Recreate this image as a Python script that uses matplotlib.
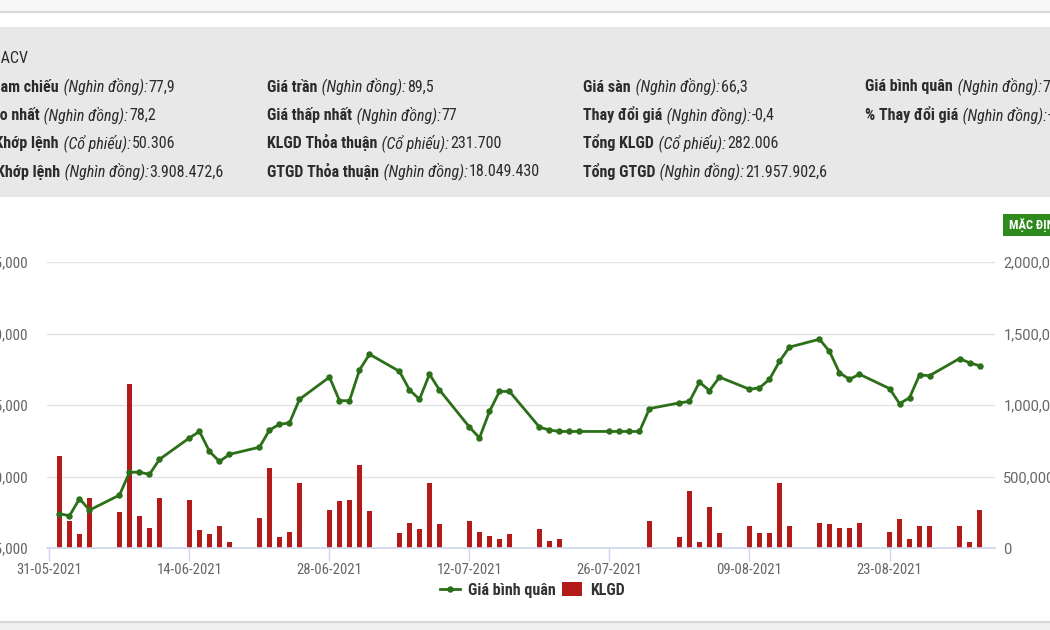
import matplotlib
matplotlib.use('Agg')
import matplotlib.pyplot as plt
import matplotlib.dates as mdates
import pandas as pd
from matplotlib.patches import Rectangle
from matplotlib.lines import Line2D
from matplotlib.ticker import FuncFormatter

plt.rcParams['font.family'] = ['Roboto Condensed', 'Liberation Sans Narrow', 'DejaVu Sans']

# ---------------- data ----------------
dates = ['2021-06-01', '2021-06-02', '2021-06-03', '2021-06-04', '2021-06-07', '2021-06-08',
         '2021-06-09', '2021-06-10', '2021-06-11', '2021-06-14', '2021-06-15', '2021-06-16',
         '2021-06-17', '2021-06-18', '2021-06-21', '2021-06-22', '2021-06-23', '2021-06-24',
         '2021-06-25', '2021-06-28', '2021-06-29', '2021-06-30', '2021-07-01', '2021-07-02',
         '2021-07-05', '2021-07-06', '2021-07-07', '2021-07-08', '2021-07-09', '2021-07-12',
         '2021-07-13', '2021-07-14', '2021-07-15', '2021-07-16', '2021-07-19', '2021-07-20',
         '2021-07-21', '2021-07-22', '2021-07-23', '2021-07-26', '2021-07-27', '2021-07-28',
         '2021-07-29', '2021-07-30', '2021-08-02', '2021-08-03', '2021-08-04', '2021-08-05',
         '2021-08-06', '2021-08-09', '2021-08-10', '2021-08-11', '2021-08-12', '2021-08-13',
         '2021-08-16', '2021-08-17', '2021-08-18', '2021-08-19', '2021-08-20', '2021-08-23',
         '2021-08-24', '2021-08-25', '2021-08-26', '2021-08-27', '2021-08-30', '2021-08-31',
         '2021-09-01']

gia_binh_quan = [77400, 77250, 78450, 77650, 78700, 80300, 80300, 80150, 81200, 82700, 83150,
                 81750, 81050, 81550, 82050, 83250, 83650, 83750, 85400, 86950, 85300, 85300,
                 87450, 88550, 87350, 86050, 85400, 87150, 86050, 83450, 82700, 84550, 85950,
                 85950, 83450, 83250, 83150, 83150, 83150, 83150, 83150, 83150, 83150, 84750,
                 85150, 85250, 86600, 86000, 86950, 86100, 86200, 86800, 88050, 89050, 89600,
                 88750, 87250, 86800, 87150, 86150, 85100, 85500, 87100, 87050, 88250, 87950,
                 87750]

klgd = [645000, 189000, 96000, 348000, 250000, 1147000, 224000, 138000, 348000, 338000, 128000,
        96000, 156000, 40000, 208000, 557000, 75000, 110000, 452000, 268000, 329000, 338000,
        580000, 259000, 103000, 173000, 131000, 452000, 166000, 189000, 110000, 84000, 61000,
        96000, 131000, 51000, 61000, 0, 0, 0, 0, 0, 0, 189000,
        75000, 399000, 42000, 287000, 105000, 154000, 105000, 105000, 452000, 154000, 173000,
        166000, 138000, 138000, 173000, 110000, 205000, 61000, 154000, 154000, 154000, 42000,
        268000]

x_ticks = ['2021-05-31', '2021-06-14', '2021-06-28', '2021-07-12', '2021-07-26', '2021-08-09',
           '2021-08-23']
price_ticks = [75000, 80000, 85000, 90000, 95000]
vol_ticks = [0, 500000, 1000000, 1500000, 2000000]

# first column is cut by the left edge: it is anchored by where its text ends
left_rows = [
    # (end x px, baseline y px, label, unit, value)
    (28, 63, 'Mã CK', '', ': ACV'),
    (175, 91.5, 'Giá tham chiếu', '(Nghìn đồng):', '77,9'),
    (156, 120, 'Giá cao nhất', '(Nghìn đồng):', '78,2'),
    (175, 148, 'KLGD Khớp lệnh', '(Cổ phiếu):', '50.306'),
    (224, 176.5, 'GTGD Khớp lệnh', '(Nghìn đồng):', '3.908.472,6'),
]
info_rows = [
    # (start x px, baseline y px, label, unit, value)
    (267, 91.5, 'Giá trần', '(Nghìn đồng):', '89,5'),
    (267, 120, 'Giá thấp nhất', '(Nghìn đồng):', '77'),
    (267, 148, 'KLGD Thỏa thuận', '(Cổ phiếu):', '231.700'),
    (267, 176.5, 'GTGD Thỏa thuận', '(Nghìn đồng):', '18.049.430'),
    (583, 91.5, 'Giá sàn', '(Nghìn đồng):', '66,3'),
    (583, 120, 'Thay đổi giá', '(Nghìn đồng):', '-0,4'),
    (583, 148, 'Tổng KLGD', '(Cổ phiếu):', '282.006'),
    (583, 176.5, 'Tổng GTGD', '(Nghìn đồng):', '21.957.902,6'),
    (865, 91.5, 'Giá bình quân', '(Nghìn đồng):', '77,7'),
    (865, 120, '% Thay đổi giá', '(Nghìn đồng):', '-0,51'),
]

# ---------------- figure ----------------
W, H = 1050, 630
fig = plt.figure(figsize=(10.5, 6.3), dpi=100)
fig.patch.set_facecolor('white')


def fx(px):
    return px / W


def fy(py):
    return 1 - py / H


# page chrome
fig.patches.append(Rectangle((0, fy(11)), 1, 11 / H, transform=fig.transFigure,
                             facecolor='#f6f6f6', edgecolor='none', zorder=0))
fig.lines.append(Line2D([0, 1], [fy(11.5), fy(11.5)], transform=fig.transFigure,
                        color='#d8d8d8', lw=1.5, zorder=1))
fig.patches.append(Rectangle((0, fy(197)), 1, 170 / H, transform=fig.transFigure,
                             facecolor='#e8e8e8', edgecolor='none', zorder=0))
fig.patches.append(Rectangle((0, 0), 1, 8 / H, transform=fig.transFigure,
                             facecolor='#f0f0f0', edgecolor='none', zorder=0))
fig.lines.append(Line2D([0, 1], [fy(622), fy(622)], transform=fig.transFigure,
                        color='#d6d6d6', lw=1.5, zorder=1))

renderer = fig.canvas.get_renderer()
FS = 11.5
TXT = '#2b2b2b'


def make_segs(label, unit, value):
    if not unit:
        return [(label + value, 'normal', 'normal')]
    return [(label, 'bold', 'normal'), (' ' + unit, 'normal', 'italic'),
            (value, 'normal', 'normal')]


def seg_width(s, wgt, sty):
    t = fig.text(0, 0, s, fontsize=FS, fontweight=wgt, fontstyle=sty)
    w = t.get_window_extent(renderer).width
    t.remove()
    return w


def draw_segs(x, by, segs):
    for s, wgt, sty in segs:
        t = fig.text(fx(x), fy(by), s, fontsize=FS, fontweight=wgt, fontstyle=sty,
                     color=TXT, ha='left', va='baseline')
        x += t.get_window_extent(renderer).width + 1


for ex, by, label, unit, value in left_rows:
    segs = make_segs(label, unit, value)
    total = sum(seg_width(*sg) + 1 for sg in segs) - 1
    draw_segs(ex - total, by, segs)

for sx, by, label, unit, value in info_rows:
    draw_segs(sx, by, make_segs(label, unit, value))

# MẶC ĐỊNH button
fig.patches.append(Rectangle((fx(1003), fy(236)), 0.2, 22 / H, transform=fig.transFigure,
                             facecolor='#2e8a1c', edgecolor='none', zorder=2))
fig.text(fx(1009), fy(225.5), 'MẶC ĐỊNH', color='white', fontsize=9, fontweight='bold',
         va='center', ha='left', zorder=3)

# ---------------- chart ----------------
GREEN = '#2b6f18'
RED = '#b31b1b'
xd = mdates.date2num(pd.to_datetime(dates))
start = mdates.date2num(pd.Timestamp('2021-05-31'))

ax = fig.add_axes([fx(47), fy(548), (995 - 47) / W, (548 - 262) / H])
ax.set_facecolor('none')
ax.bar(xd, klgd, width=0.5, color=RED, zorder=2)
ax.set_ylim(0, 2000000)
ax.set_xlim(start - 0.25, start + 94.55)
ax.set_yticks(vol_ticks)
ax.yaxis.set_major_formatter(FuncFormatter(lambda v, p: f'{int(v):,}'))
ax.grid(axis='y', color='#e3e3e3', lw=1)
ax.set_axisbelow(True)
for s in ['top', 'left', 'right']:
    ax.spines[s].set_visible(False)
ax.spines['bottom'].set_color('#ccd6eb')
ax.spines['bottom'].set_linewidth(1.2)
ax.set_xticks(mdates.date2num(pd.to_datetime(x_ticks)))
ax.xaxis.set_major_formatter(mdates.DateFormatter('%d-%m-%Y'))
ax.tick_params(axis='x', length=9, width=1, color='#ccd6eb', pad=2,
               labelcolor='#666666', labelsize=10.5)

ax2 = ax.twinx()
ax2.plot(xd, gia_binh_quan, color=GREEN, lw=2, marker='o', ms=3.6, zorder=3)
ax2.set_ylim(75000, 95000)
ax2.set_yticks(price_ticks)
ax2.yaxis.set_major_formatter(FuncFormatter(lambda v, p: f'{int(v):,}'))
for s in ax2.spines.values():
    s.set_visible(False)

ax.yaxis.tick_right()
ax2.yaxis.tick_left()
ax.tick_params(axis='y', length=0, pad=6, labelcolor='#666666', labelsize=10.5)
for lab in ax.get_yticklabels():
    lab.set_family(['Roboto', 'DejaVu Sans'])
ax2.tick_params(axis='y', length=0, pad=14, labelcolor='#666666', labelsize=11)

handles = [Line2D([], [], color=GREEN, lw=2, marker='o', ms=3.6),
           Rectangle((0, 0), 1, 1, facecolor=RED, edgecolor='none')]
fig.legend(handles, ['Giá bình quân', 'KLGD'], loc='center', bbox_to_anchor=(fx(532), fy(590)),
           ncol=2, frameon=False, prop={'weight': 'bold', 'size': 11.5}, labelcolor='#333333',
           handlelength=1.25, handleheight=0.95, handletextpad=0.5, columnspacing=0.4)

fig.savefig('out.png', dpi=100)
